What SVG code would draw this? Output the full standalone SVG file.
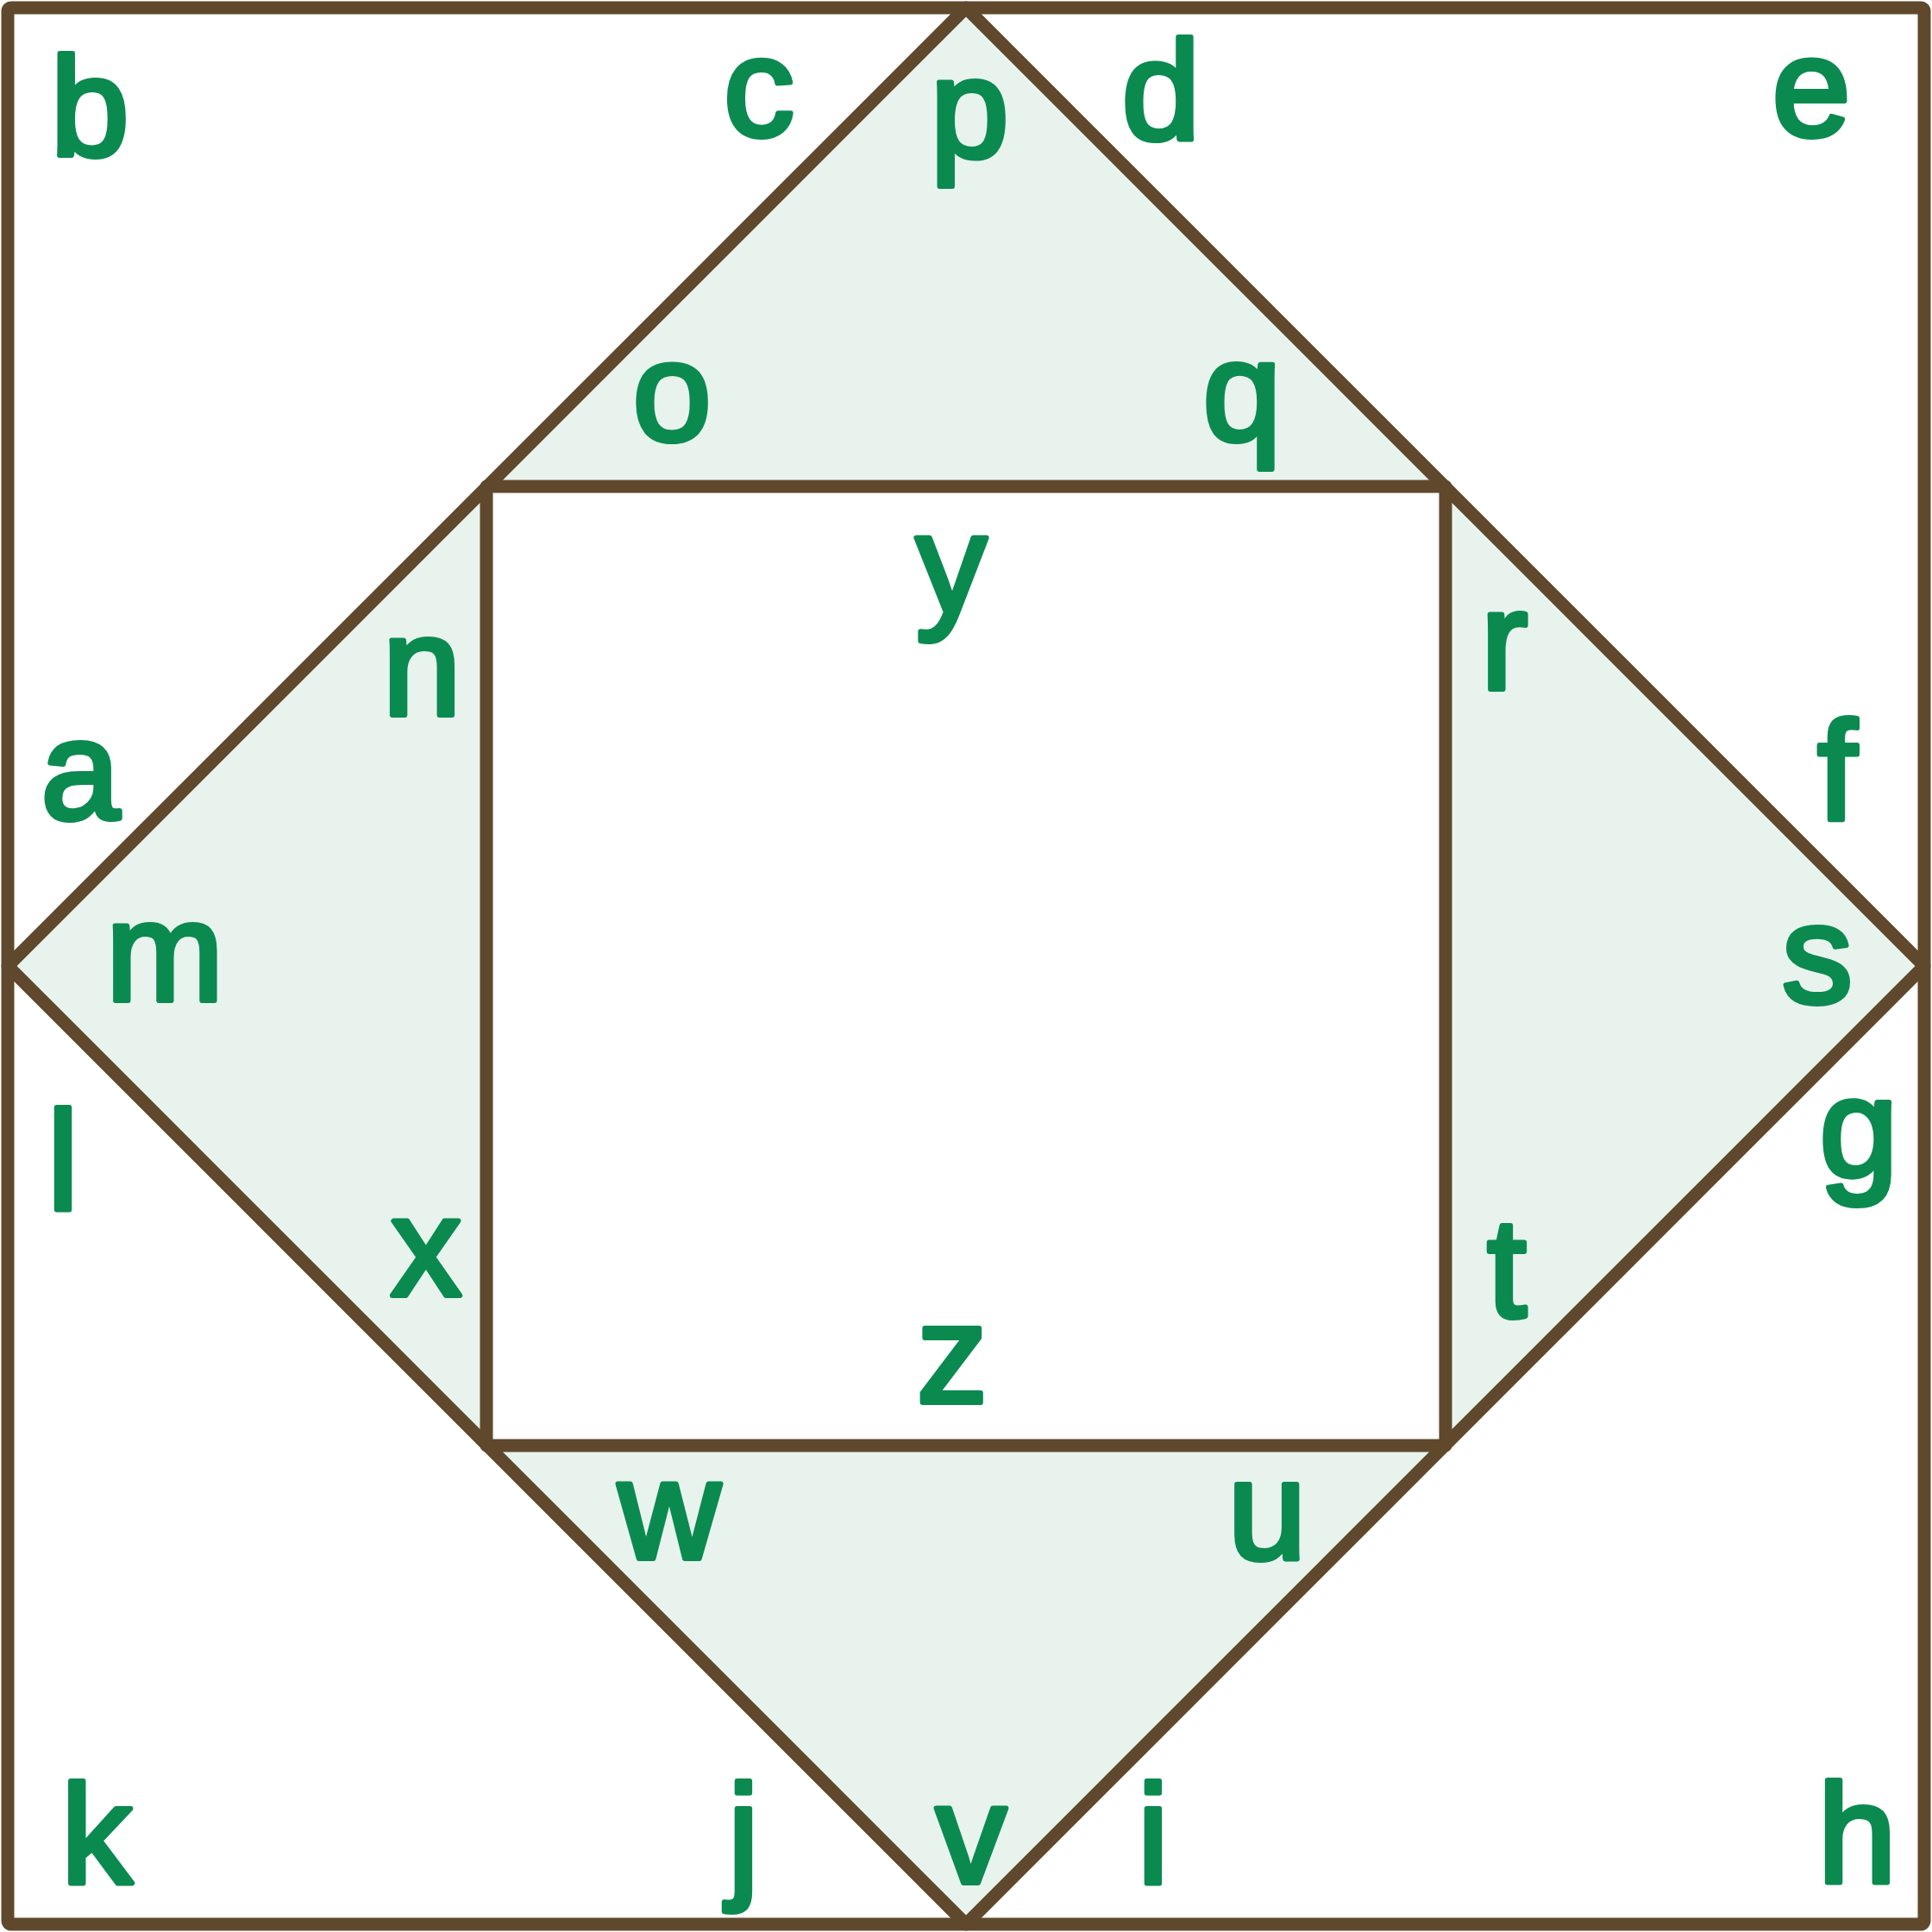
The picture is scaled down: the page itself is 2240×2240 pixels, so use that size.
<svg xmlns="http://www.w3.org/2000/svg" width="2240" height="2240" viewBox="0 0 2240 2240">
<style>
.ln{fill:none;stroke:#5f482c;stroke-width:15;stroke-linejoin:round;stroke-linecap:round}
.tri{fill:#e8f3ee;stroke:none}
.lb{font-family:"Liberation Sans",Arial,sans-serif;font-weight:normal;font-size:164px;fill:#0b8a50;stroke:#0b8a50;stroke-width:6;stroke-linejoin:round;text-anchor:middle}
</style>
<rect width="2240" height="2240" fill="#ffffff"/>
<g id="triangles">
<polygon class="tri" points="1120,9 564,564 1676,564"/>
<polygon class="tri" points="2231,1120 1676,564 1676,1676"/>
<polygon class="tri" points="1120,2231 564,1676 1676,1676"/>
<polygon class="tri" points="9,1120 564,564 564,1676"/>
</g>
<g id="connectors">
<rect class="ln" x="9" y="9" width="2222" height="2222" rx="4"/>
<polygon class="ln" points="1120,9 2231,1120 1120,2231 9,1120"/>
<rect class="ln" x="564" y="564" width="1112" height="1112"/>
</g>
<g id="labels">
<g id="n-b"><text class="lb" x="104" y="180">b</text></g>
<g id="n-c"><text class="lb" x="880" y="157">c</text></g>
<g id="n-p"><text class="lb" x="1124" y="182">p</text></g>
<g id="n-d"><text class="lb" x="1346" y="161">d</text></g>
<g id="n-e"><text class="lb" x="2100" y="157">e</text></g>
<g id="n-o"><text class="lb" x="779" y="510">o</text></g>
<g id="n-q"><text class="lb" x="1440" y="510">q</text></g>
<g id="n-y"><text class="lb" x="1103" y="710">y</text></g>
<g id="n-n"><text class="lb" x="489" y="829">n</text></g>
<g id="n-r"><text class="lb" x="1744" y="799">r</text></g>
<g id="n-a"><text class="lb" x="93" y="949">a</text></g>
<g id="n-f"><text class="lb" x="2130" y="950">f</text></g>
<g id="n-m"><text class="lb" x="191" y="1160">m</text></g>
<g id="n-s"><text class="lb" x="2107" y="1162">s</text></g>
<g id="n-l"><text class="lb" x="73" y="1402">l</text></g>
<g id="n-g"><text class="lb" x="2155" y="1364">g</text></g>
<g id="n-x"><text class="lb" x="494" y="1502">x</text></g>
<g id="n-t"><text class="lb" x="1747" y="1527">t</text></g>
<g id="n-z"><text class="lb" x="1104" y="1626">z</text></g>
<g id="n-w"><text class="lb" x="776" y="1807">w</text></g>
<g id="n-u"><text class="lb" x="1469" y="1807">u</text></g>
<g id="n-k"><text class="lb" x="112" y="2183">k</text></g>
<g id="n-j"><text class="lb" x="862" y="2183">j</text></g>
<g id="n-v"><text class="lb" x="1126" y="2183">v</text></g>
<g id="n-i"><text class="lb" x="1337" y="2183">i</text></g>
<g id="n-h"><text class="lb" x="2153" y="2182">h</text></g>
</g>
</svg>
